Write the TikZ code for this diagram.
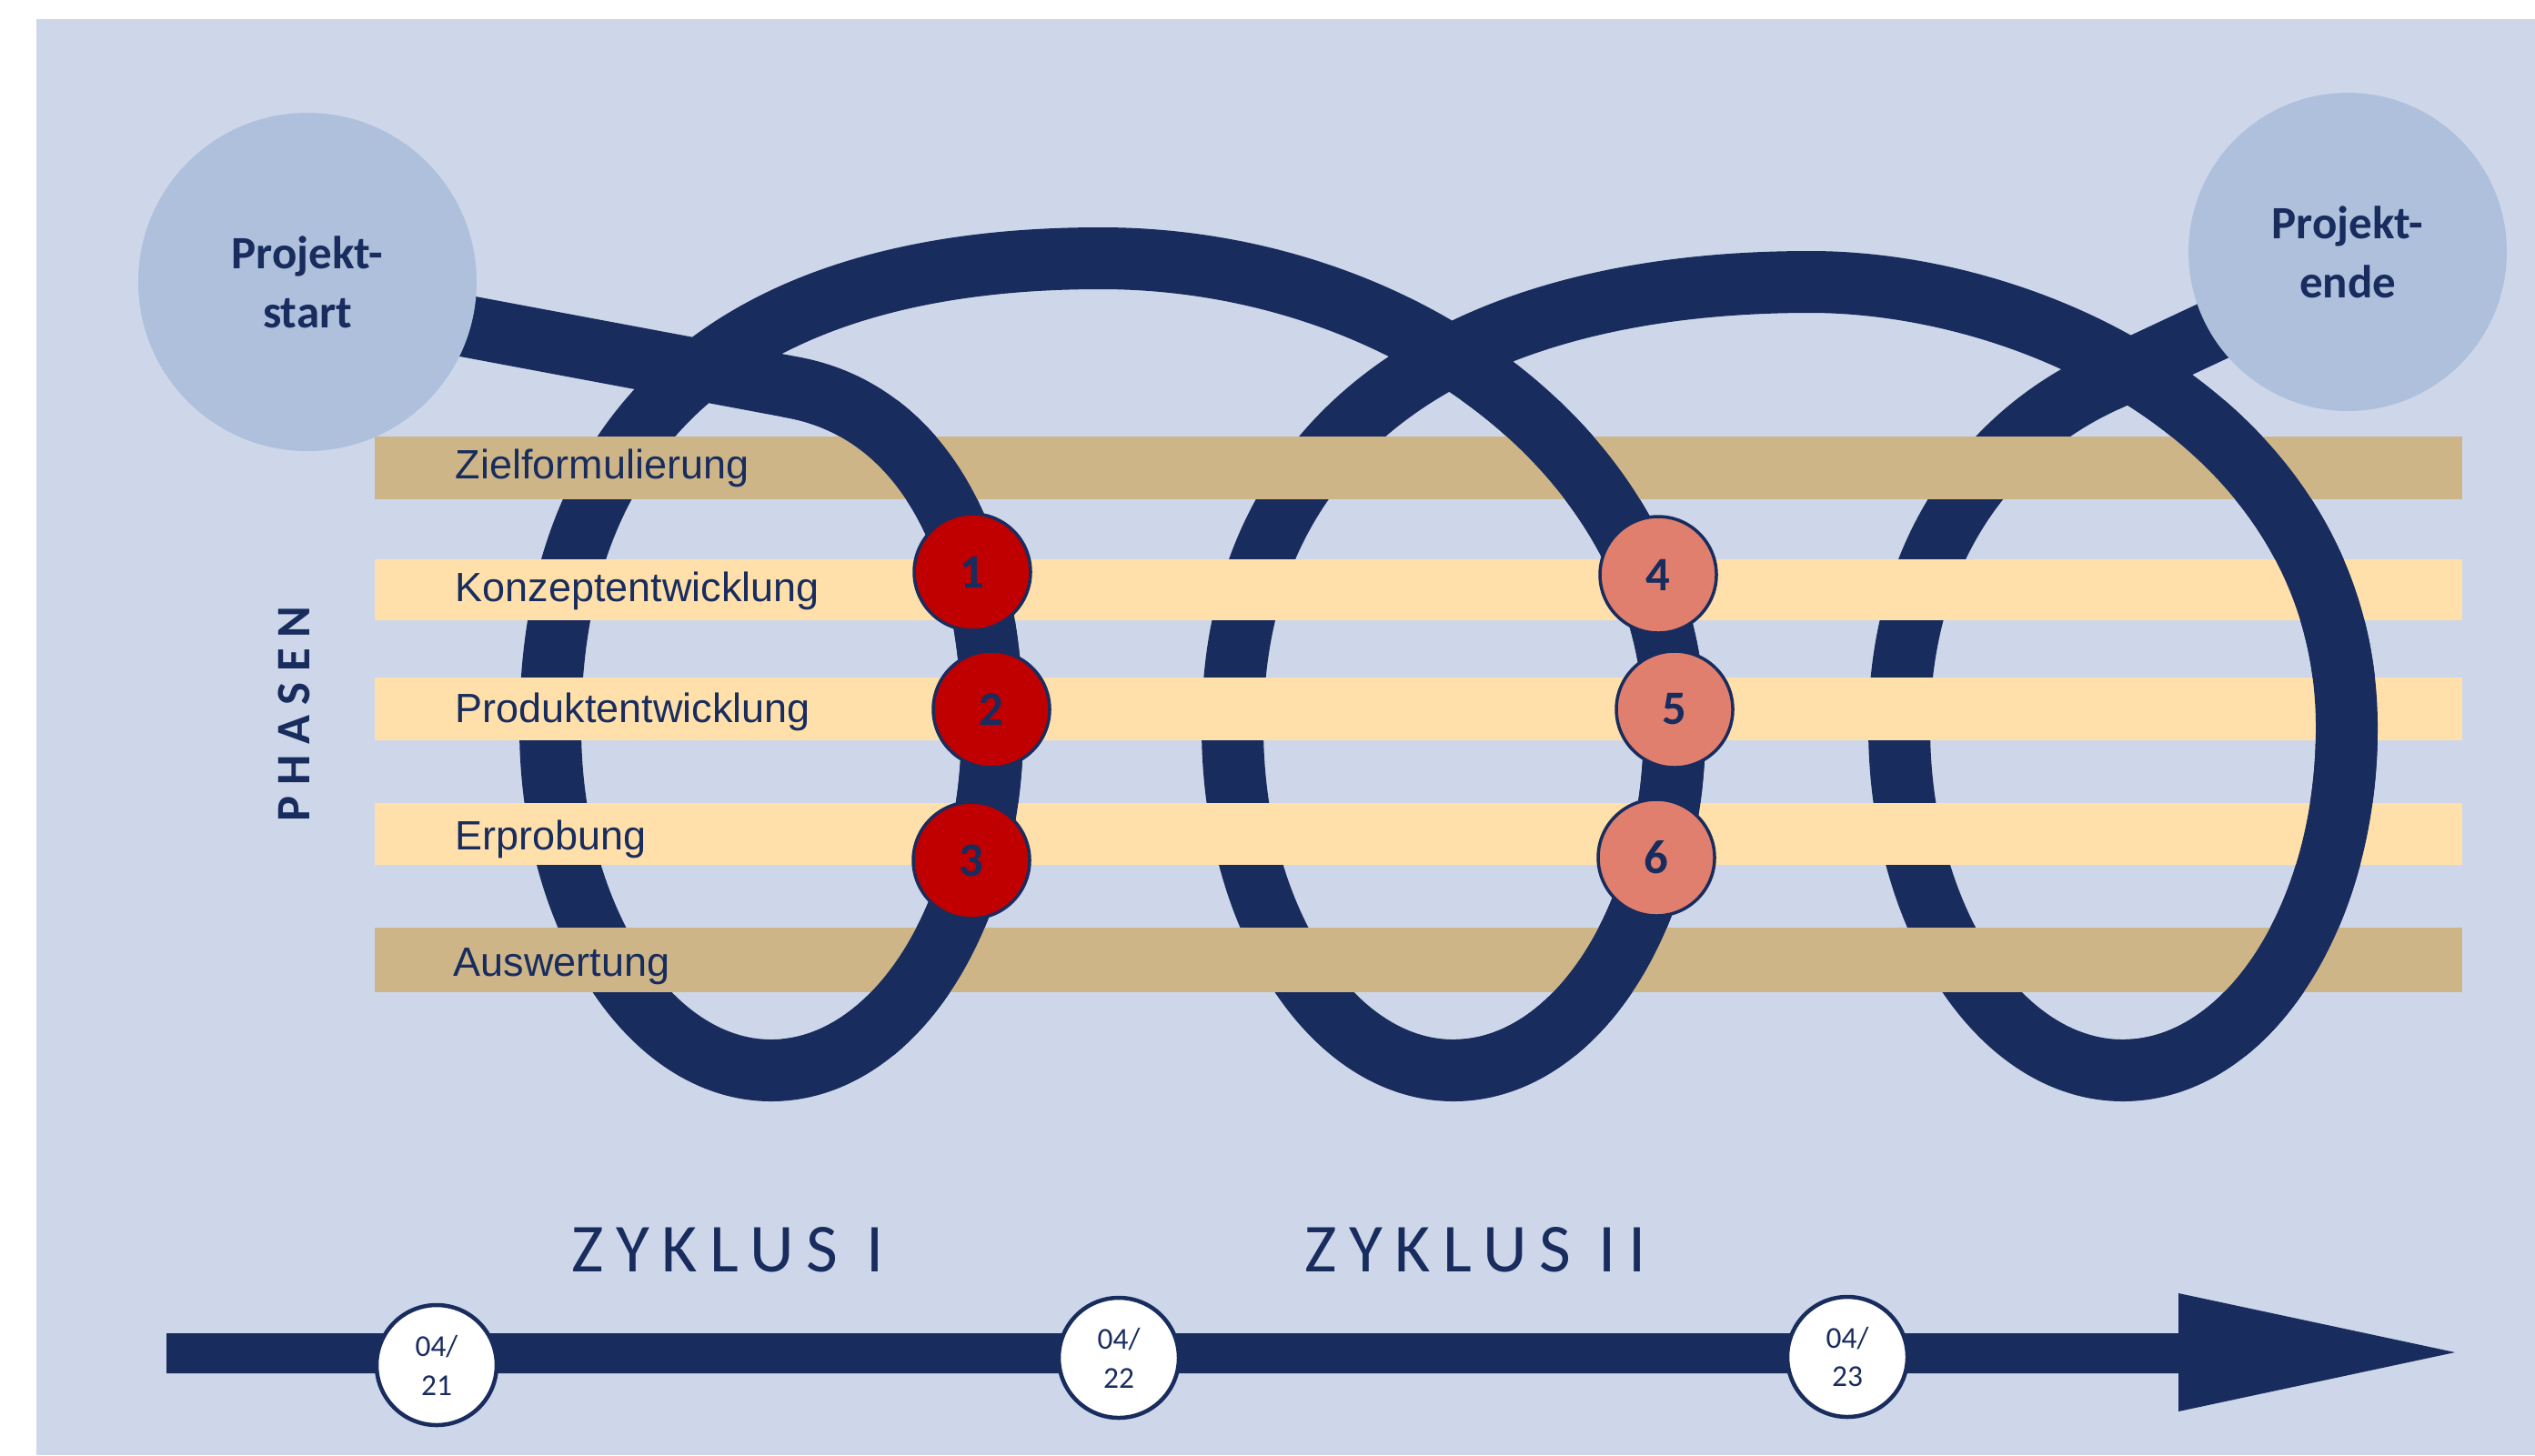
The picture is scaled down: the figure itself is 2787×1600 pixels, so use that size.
\documentclass[tikz,border=0pt]{standalone}
\usepackage{fontspec}
\setmainfont{Liberation Sans}
\newfontfamily\carlito{Carlito}

\definecolor{bgblue}{HTML}{CED7E9}
\definecolor{navy}{HTML}{182C5E}
\definecolor{capblue}{HTML}{AFC0DC}
\definecolor{tanbar}{HTML}{CDB588}
\definecolor{creambar}{HTML}{FFE0AB}
\definecolor{redmark}{HTML}{C00000}
\definecolor{salmonmark}{HTML}{E07F6D}

% centre line of the looping project course: three loops with elliptic bottoms
\newcommand{\spiralcourse}{
  (spiral-in) -- (872,426)
  .. controls (1002,450) and (1091,580) .. (1091,800)
  arc[start angle=0,end angle=180,x radius=243,y radius=377]
  .. controls (605,450) and (830,284) .. (1210,284)
  .. controls (1540,284) and (1841,500) .. (1841,800)
  arc[start angle=0,end angle=180,x radius=243,y radius=377]
  .. controls (1355,470) and (1610,310) .. (1990,310)
  .. controls (2240,310) and (2580,470) .. (2580,800)
  arc[start angle=0,end angle=180,x radius=246,y radius=377]
  .. controls (2088,600) and (2193,476) .. (2311,421)
  -- (spiral-out)}

\begin{document}
\begin{tikzpicture}[x=0.1mm,y=-0.1mm,
  spiral/.style={draw=navy,line width=6.8mm,line join=round},
  barlabel/.style={anchor=base west,inner sep=0,text=navy,
    font=\fontsize{12.8}{15}\selectfont},
  milestone/.style={circle,draw=navy,line width=0.35mm,minimum size=12.8mm,
    inner sep=0,text=navy,font=\carlito\bfseries\fontsize{15}{18}\selectfont},
  datemark/.style={circle,draw=navy,fill=white,line width=0.45mm,
    minimum size=13.2mm,inner sep=0,align=center,text=navy,
    font=\carlito\fontsize{9.5}{12.2}\selectfont},
  endpoint/.style={circle,fill=capblue,inner sep=0,align=center,text=navy,
    font=\carlito\bfseries\fontsize{14.5}{18.5}\selectfont},
  cycletitle/.style={inner sep=0,text=navy,
    font=\carlito\fontsize{21.5}{25}\selectfont\addfontfeature{LetterSpace=18}}
]
\useasboundingbox (0,0) rectangle (2787,1600);
\fill[white] (0,0) rectangle (2787,1600);
\fill[bgblue] (40,21) rectangle (2787,1600);

\coordinate (spiral-in) at (338,326);
\coordinate (spiral-out) at (2520,323);

% the whole course, running under the phase bars
\draw[spiral] \spiralcourse;

% phase bars
\fill[tanbar]   (412,480)  rectangle (2707,549);
\fill[creambar] (412,615)  rectangle (2707,682);
\fill[creambar] (412,745)  rectangle (2707,814);
\fill[creambar] (412,883)  rectangle (2707,951);
\fill[tanbar]   (412,1020) rectangle (2707,1091);

\node[barlabel] (lbl-ziel)    at (500,526)  {Zielformulierung};
\node[barlabel] (lbl-konzept) at (500,661)  {Konzeptentwicklung};
\node[barlabel] (lbl-produkt) at (500,794)  {Produktentwicklung};
\node[barlabel] (lbl-erprob)  at (500,934)  {Erprobung};
\node[barlabel] (lbl-auswert) at (498,1073) {Auswertung};

% right-hand sides of the loops pass over the bars
\begin{scope}
  \clip (860,440) rectangle (1250,1160);
  \draw[spiral] \spiralcourse;
\end{scope}
\begin{scope}
  \clip (1600,440) rectangle (2000,1160);
  \draw[spiral] \spiralcourse;
\end{scope}
\begin{scope}
  \clip (2330,440) rectangle (2787,1160);
  \draw[spiral] \spiralcourse;
\end{scope}

% milestones
\node[milestone,fill=redmark]    (m1) at (1069,629) {1};
\node[milestone,fill=redmark]    (m2) at (1090,780) {2};
\node[milestone,fill=redmark]    (m3) at (1068,946) {3};
\node[milestone,fill=salmonmark] (m4) at (1823,632) {4};
\node[milestone,fill=salmonmark] (m5) at (1841,780) {5};
\node[milestone,fill=salmonmark] (m6) at (1821,943) {6};

% start and end
\node[endpoint,minimum size=37.2mm] (start) at (338,310) {Projekt-\\start};
\node[endpoint,minimum size=35mm]   (end)   at (2581,277) {Projekt-\\ende};

\node[rotate=90,inner sep=0,text=navy,
  font=\carlito\bfseries\fontsize{15}{18}\selectfont\addfontfeature{LetterSpace=22}]
  (phasen) at (323,785) {PHASEN};

% time line
\coordinate (tl-start) at (183,1488);
\coordinate (tl-tip) at (2699,1487);
\fill[navy] (tl-start) ++(0,-22) -- (2395,1466) -- (2395,1422) -- (tl-tip)
  -- (2395,1552) -- (2395,1510) -- ([yshift=-2.2mm]tl-start) -- cycle;

\node[cycletitle] (zyk1) at (800,1374)  {ZYKLUS I};
\node[cycletitle] (zyk2) at (1622,1374) {ZYKLUS II};

\node[datemark] (d21) at (480,1501)  {04/\\21};
\node[datemark] (d22) at (1230,1493) {04/\\22};
\node[datemark] (d23) at (2031,1492) {04/\\23};
\end{tikzpicture}
\end{document}
